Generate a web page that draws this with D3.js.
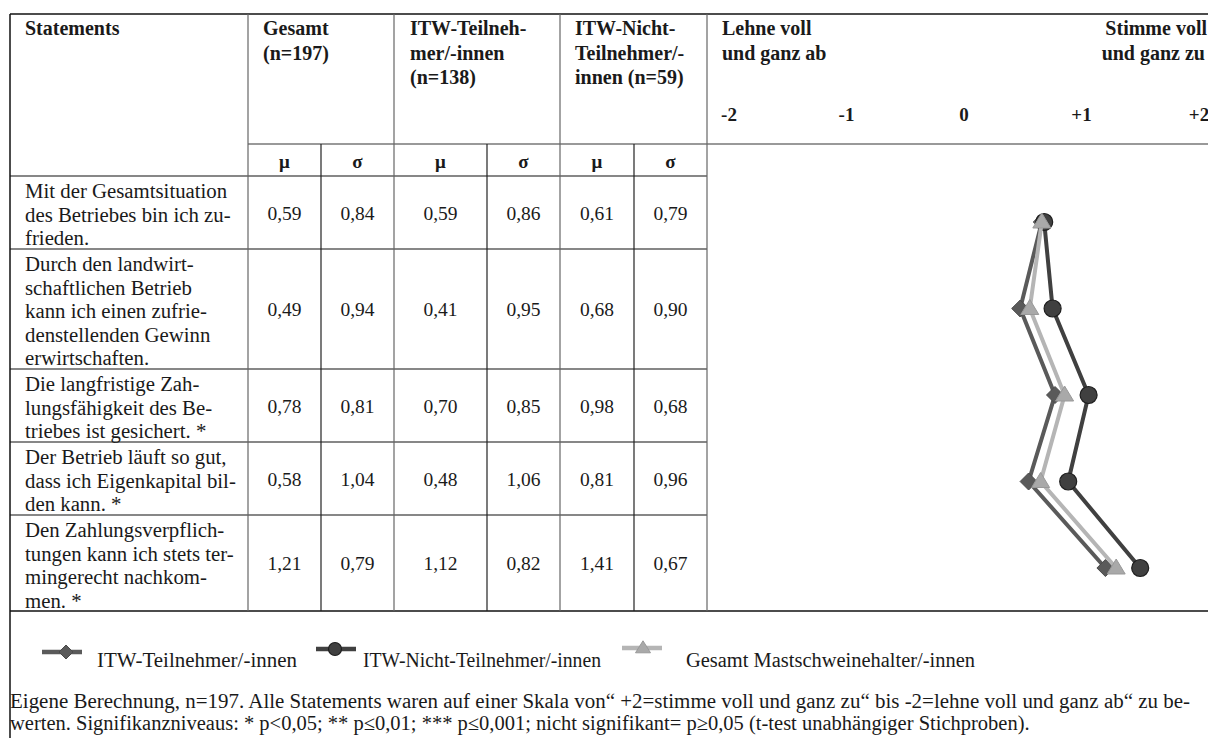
<!DOCTYPE html>
<html>
<head>
<meta charset="utf-8">
<script src="https://cdn.jsdelivr.net/npm/d3@7"></script>
<style>
  html, body { margin: 0; padding: 0; background: #fff; }
  svg { display: block; font-family: "Liberation Serif", "DejaVu Serif", serif; }
  text { fill: #1a1a1a; }
</style>
</head>
<body>
<svg id="chart" width="1208" height="738"></svg>
<script>
// Statement texts (hyphenated lines as printed)
const statements = [
  ["Mit der Gesamtsituation", "des Betriebes bin ich zu-", "frieden."],
  ["Durch den landwirt-", "schaftlichen Betrieb", "kann ich einen zufrie-", "denstellenden Gewinn", "erwirtschaften."],
  ["Die langfristige Zah-", "lungsfähigkeit des Be-", "triebes ist gesichert. *"],
  ["Der Betrieb läuft so gut,", "dass ich Eigenkapital bil-", "den kann. *"],
  ["Den Zahlungsverpflich-", "tungen kann ich stets ter-", "mingerecht nachkom-", "men. *"]
];

// Means and standard deviations per group
const gesamtMean = [0.59, 0.49, 0.78, 0.58, 1.21];
const gesamtSd   = [0.84, 0.94, 0.81, 1.04, 0.79];
const itwMean    = [0.59, 0.41, 0.70, 0.48, 1.12];
const itwSd      = [0.86, 0.95, 0.85, 1.06, 0.82];
const nichtMean  = [0.61, 0.68, 0.98, 0.81, 1.41];
const nichtSd    = [0.79, 0.90, 0.68, 0.96, 0.67];

// Scale labels
const scaleTickValues = [-2, -1, 0, 1, 2];
const scaleTickLabels = ["-2", "-1", "0", "+1", "+2"];

// Column headers
const groupHeaders = [
  ["Gesamt", "(n=197)"],
  ["ITW-Teilneh-", "mer/-innen", "(n=138)"],
  ["ITW-Nicht-", "Teilnehmer/-", "innen (n=59)"]
];
const legendLabels = ["ITW-Teilnehmer/-innen", "ITW-Nicht-Teilnehmer/-innen", "Gesamt Mastschweinehalter/-innen"];
const footnote = [
  "Eigene Berechnung, n=197. Alle Statements waren auf einer Skala von\u201C +2=stimme voll und ganz zu\u201C bis -2=lehne voll und ganz ab\u201C zu be-",
  "werten. Signifikanzniveaus: * p<0,05; ** p\u22640,01; *** p\u22640,001; nicht signifikant= p\u22650,05 (t-test unabh\u00E4ngiger Stichproben)."
];

const svg = d3.select("#chart");
const W = 1208;
const SERIF = "'Liberation Serif', 'DejaVu Serif', serif";

// ---- table geometry ----
const tableLeft = 10, tableTop = 14, headBottom = 144, subBottom = 176;
const colX = [10, 248, 321, 394, 487, 560, 634, 707];
const rowY = [176, 249, 369, 442, 515, 611];
const lineH = 23.5;

const fmt = v => d3.format(".2f")(v).replace(".", ",");

const grid = svg.append("g");
function hline(y, x1, x2, color, w) {
  grid.append("line").attr("x1", x1).attr("x2", x2).attr("y1", y).attr("y2", y)
    .attr("stroke", color).attr("stroke-width", w);
}
function vline(x, y1, y2, color, w) {
  grid.append("line").attr("x1", x).attr("x2", x).attr("y1", y1).attr("y2", y2)
    .attr("stroke", color).attr("stroke-width", w);
}

hline(tableTop, tableLeft, W, "#111", 1.5);
hline(headBottom, colX[1], W, "#777", 1.5);
hline(subBottom, tableLeft, colX[7], "#111", 1.2);
rowY.slice(1, -1).forEach(y => hline(y, tableLeft, colX[7], "#111", 1.2));
hline(rowY[rowY.length - 1], tableLeft, W, "#111", 1.5);
vline(tableLeft, tableTop, 738, "#111", 1.5);
[colX[1], colX[3], colX[5], colX[7]].forEach(x => vline(x, tableTop, rowY[rowY.length - 1], "#666", 1.2));
[colX[2], colX[4], colX[6]].forEach(x => vline(x, headBottom, rowY[rowY.length - 1], "#222", 1.2));

// text helper
function txt(g, x, y, s, size, weight, anchor) {
  return g.append("text").attr("x", x).attr("y", y)
    .style("font-family", SERIF)
    .style("font-size", size + "px").style("font-weight", weight || "normal")
    .attr("text-anchor", anchor || "start").text(s);
}

// ---- header texts ----
const head = svg.append("g");
txt(head, 25, 35, "Statements", 20, "bold");
const headX = [263, 410, 575];
groupHeaders.forEach((lines, i) => {
  lines.forEach((t, j) => txt(head, headX[i], 35 + j * 24.5, t, 20, "bold"));
});
txt(head, 722, 35, "Lehne voll", 20, "bold");
txt(head, 722, 59.5, "und ganz ab", 20, "bold");
txt(head, 1207, 35, "Stimme voll", 20, "bold", "end");
txt(head, 1205, 59.5, "und ganz zu", 20, "bold", "end");

// mu / sigma sub-header
const subCenters = d3.range(1, 7).map(i => (colX[i] + colX[i + 1]) / 2);
subCenters.forEach((cx, i) => txt(head, cx, 168, i % 2 === 0 ? "\u03BC" : "\u03C3", 19, "bold", "middle"));

// scale tick labels
const labelScale = d3.scaleLinear().domain([-2, 2]).range([729, 1199]);
scaleTickValues.forEach((v, i) => txt(head, labelScale(v), 121, scaleTickLabels[i], 19, "bold", "middle"));

// ---- body rows ----
const body = svg.append("g");
statements.forEach((lines, r) => {
  lines.forEach((t, j) => txt(body, 25, rowY[r] + 22 + j * lineH, t, 20.8));
  const cy = (rowY[r] + rowY[r + 1]) / 2 + 7;
  const vals = [gesamtMean[r], gesamtSd[r], itwMean[r], itwSd[r], nichtMean[r], nichtSd[r]];
  vals.forEach((v, k) => txt(body, subCenters[k], cy, fmt(v), 19.5, "normal", "middle"));
});

// ---- profile chart ----
const x = d3.scaleLinear().domain([-2, 2]).range([731, 1211]);
const y = d3.scalePoint().domain(d3.range(statements.length)).range([222, 568]);

const diamond = h => `M0,${-h}L${h},0L0,${h}L${-h},0Z`;
const triangle = (w, h) => `M0,${-h * 0.6}L${w / 2},${h * 0.4}L${-w / 2},${h * 0.4}Z`;

const series = [
  { values: itwMean,   line: "#5a5a5a", fill: "#5a5a5a", stroke: "#4a4a4a", shape: "diamond" },
  { values: nichtMean, line: "#404040", fill: "#404040", stroke: "#1e1e1e", shape: "circle" },
  { values: gesamtMean, line: "#b5b5b5", fill: "#a9a9a9", stroke: "#999999", shape: "triangle" }
];

const plot = svg.append("g");
const lineGen = d3.line().x(d => x(d.v)).y(d => y(d.i));

function marker(g, s, big) {
  if (s.shape === "circle") {
    g.append("circle").attr("r", big ? 8.5 : 6.5).attr("fill", s.fill).attr("stroke", s.stroke).attr("stroke-width", 1.2);
  } else if (s.shape === "diamond") {
    g.append("path").attr("d", diamond(big ? 8.5 : 7)).attr("fill", s.fill).attr("stroke", s.stroke).attr("stroke-width", 1);
  } else {
    g.append("path").attr("d", big ? triangle(18, 15) : triangle(15, 12)).attr("fill", s.fill).attr("stroke", s.stroke).attr("stroke-width", 1);
  }
}

series.forEach(s => {
  const pts = s.values.map((v, i) => ({ v, i }));
  plot.append("path").datum(pts).attr("d", lineGen)
    .attr("fill", "none").attr("stroke", s.line).attr("stroke-width", 4).attr("stroke-linejoin", "miter");
  pts.forEach(p => {
    const g = plot.append("g").attr("transform", `translate(${x(p.v)},${y(p.i)})`);
    marker(g, s, true);
  });
});

// ---- legend ----
const legend = svg.append("g");
const legendItems = [
  { sx: 42, mx: 66, my: 652, tx: 97, tw: 200 },
  { sx: 316, mx: 335, my: 649, tx: 363, tw: 238 },
  { sx: 622, mx: 643, my: 648, tx: 686, tw: 289 }
];
legendItems.forEach((it, i) => {
  const s = series[i];
  legend.append("line").attr("x1", it.sx).attr("x2", it.sx + 40).attr("y1", it.my).attr("y2", it.my)
    .attr("stroke", s.line).attr("stroke-width", 4.5);
  const g = legend.append("g").attr("transform", `translate(${it.mx},${it.my})`);
  marker(g, s, false);
  txt(legend, it.tx, 667, legendLabels[i], 20.5).attr("textLength", it.tw).attr("lengthAdjust", "spacingAndGlyphs");
});

// ---- footnote ----
const foot = svg.append("g");
txt(foot, 10, 708, footnote[0], 20.5).attr("textLength", 1180).attr("lengthAdjust", "spacingAndGlyphs");
txt(foot, 10, 730, footnote[1], 20.5);
</script>
</body>
</html>
